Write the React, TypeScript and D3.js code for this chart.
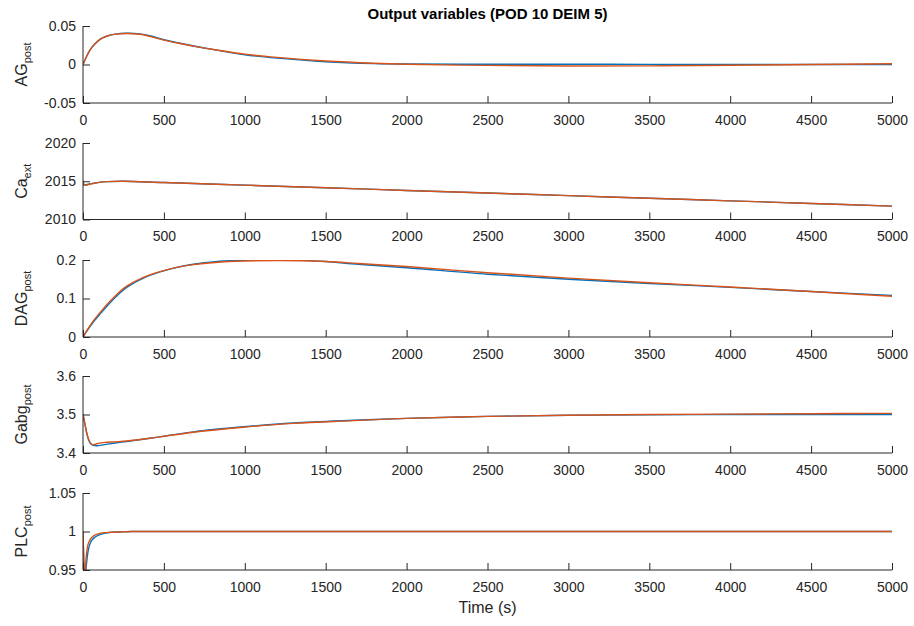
import React, { useEffect, useRef } from "react";
import * as d3 from "d3";

const xTicks = [0, 500, 1000, 1500, 2000, 2500, 3000, 3500, 4000, 4500, 5000];

// AG_post
const agTime = [0, 20, 43, 70, 105, 150, 200, 270, 350, 420, 500, 600, 700, 800, 1000, 1200, 1500, 1800, 2000, 2500, 3000, 3500, 4000, 4500, 5000];
const agFull = [0, 0.0095, 0.0188, 0.026, 0.0327, 0.037, 0.0395, 0.0405, 0.0398, 0.037, 0.0322, 0.0276, 0.0234, 0.0196, 0.0127, 0.0083, 0.0036, 0.0012, 0.0006, 0.0003, 0.0003, 0.0002, 0.0001, 0, 0];
const agRom = [0, 0.0095, 0.0188, 0.026, 0.0327, 0.037, 0.0395, 0.0403, 0.0392, 0.0362, 0.0316, 0.0272, 0.0232, 0.0198, 0.0135, 0.0092, 0.0045, 0.0016, 0.0004, -0.0012, -0.0019, -0.0018, -0.001, 0, 0.001];

// Ca_ext
const caTime = [0, 10, 40, 100, 150, 250, 500, 1000, 1500, 2000, 2500, 3000, 3500, 4000, 4500, 5000];
const caFull = [2014.6, 2014.5, 2014.65, 2014.85, 2014.95, 2015.0, 2014.83, 2014.49, 2014.15, 2013.8, 2013.46, 2013.12, 2012.78, 2012.44, 2012.1, 2011.75];
const caRom = [2015.1, 2014.5, 2014.6, 2014.85, 2014.95, 2015.0, 2014.83, 2014.49, 2014.15, 2013.8, 2013.46, 2013.12, 2012.78, 2012.44, 2012.1, 2011.75];

// DAG_post
const dagTime = [0, 30, 64, 110, 167, 220, 270, 373, 476, 580, 682, 800, 900, 1000, 1200, 1350, 1500, 1700, 2000, 2500, 3000, 3500, 4000, 4500, 5000];
const dagFull = [0, 0.019, 0.039, 0.062, 0.089, 0.111, 0.129, 0.153, 0.169, 0.181, 0.189, 0.195, 0.198, 0.1995, 0.2, 0.199, 0.196, 0.189, 0.18, 0.163, 0.15, 0.139, 0.129, 0.118, 0.108];
const dagRom = [0, 0.021, 0.042, 0.066, 0.093, 0.115, 0.132, 0.155, 0.17, 0.181, 0.188, 0.193, 0.196, 0.1975, 0.1985, 0.198, 0.196, 0.191, 0.183, 0.167, 0.153, 0.141, 0.13, 0.118, 0.106];

// Gabg_post
const gabgTime = [0, 5, 12, 23, 35, 48, 64, 85, 126, 200, 270, 476, 682, 991, 1300, 1671, 2000, 2500, 3000, 3500, 4000, 4500, 5000];
const gabgFull = [3.5, 3.49, 3.475, 3.452, 3.434, 3.424, 3.42, 3.419, 3.421, 3.426, 3.43, 3.442, 3.455, 3.468, 3.478, 3.485, 3.49, 3.495, 3.498, 3.499, 3.5, 3.5, 3.5];
const gabgRom = [3.5, 3.49, 3.475, 3.452, 3.435, 3.425, 3.421, 3.424, 3.427, 3.429, 3.431, 3.442, 3.454, 3.467, 3.477, 3.484, 3.49, 3.495, 3.498, 3.5, 3.501, 3.502, 3.503];

// PLC_post
const plcTime = [0, 3, 6, 10, 14, 20, 31, 40, 51, 70, 93, 130, 175, 250, 300, 500, 1000, 2000, 3000, 4000, 5000];
const plcFull = [1.0, 0.975, 0.955, 0.942, 0.94, 0.955, 0.974, 0.982, 0.9875, 0.992, 0.995, 0.9975, 0.999, 0.9995, 1.0, 1.0, 1.0, 1.0, 1.0, 1.0, 1.0];
const plcRom = [1.0, 0.975, 0.955, 0.945, 0.948, 0.968, 0.983, 0.988, 0.9915, 0.995, 0.997, 0.9985, 0.999, 0.9995, 1.0, 1.0, 1.0, 1.0, 1.0, 1.0, 1.0];

const panels = [
  { name: "AG", sub: "post", time: agTime, full: agFull, rom: agRom, domain: [-0.05, 0.05], ticks: [-0.05, 0, 0.05], top: 26, bottom: 103 },
  { name: "Ca", sub: "ext", time: caTime, full: caFull, rom: caRom, domain: [2010, 2020], ticks: [2010, 2015, 2020], top: 143, bottom: 219.5 },
  { name: "DAG", sub: "post", time: dagTime, full: dagFull, rom: dagRom, domain: [0, 0.2], ticks: [0, 0.1, 0.2], top: 260, bottom: 337 },
  { name: "Gabg", sub: "post", time: gabgTime, full: gabgFull, rom: gabgRom, domain: [3.4, 3.6], ticks: [3.4, 3.5, 3.6], top: 376, bottom: 453 },
  { name: "PLC", sub: "post", time: plcTime, full: plcFull, rom: plcRom, domain: [0.95, 1.05], ticks: [0.95, 1, 1.05], top: 493, bottom: 570 },
];

const W = 914;
const H = 626;
const left = 83;
const right = 892;
const font = "'Liberation Sans', Arial, Helvetica, sans-serif";
const axisColor = "#262626";

export default function App() {
  const ref = useRef<SVGSVGElement>(null);

  useEffect(() => {
    const svg = d3.select(ref.current);
    svg.selectAll("*").remove();

    const x = d3.scaleLinear().domain([0, 5000]).range([left, right]);

    panels.forEach((p, i) => {
      const y = d3.scaleLinear().domain(p.domain).range([p.bottom, p.top]);
      const g = svg.append("g");

      g.append("clipPath").attr("id", "clip" + i)
        .append("rect")
        .attr("x", left).attr("y", p.top)
        .attr("width", right - left).attr("height", p.bottom - p.top);

      const line = d3.line<number>()
        .x((_, j) => x(p.time[j]))
        .y(d => y(d))
        .curve(d3.curveCatmullRom.alpha(0.5));

      const lines = g.append("g").attr("clip-path", "url(#clip" + i + ")");
      lines.append("path").attr("d", line(p.full)).attr("fill", "none")
        .attr("stroke", "#0072BD").attr("stroke-width", 1.4);
      lines.append("path").attr("d", line(p.rom)).attr("fill", "none")
        .attr("stroke", "#D95319").attr("stroke-width", 1.4);

      // x axis with inward ticks
      const xa = g.append("g")
        .attr("transform", "translate(0," + p.bottom + ")")
        .call(d3.axisBottom(x).tickValues(xTicks).tickSize(-7).tickPadding(12).tickFormat(d3.format("d")));
      xa.select(".domain").attr("stroke", axisColor).attr("d", `M${left},0H${right}`);
      xa.selectAll("line").attr("stroke", axisColor);
      xa.selectAll("text").attr("font-family", font).attr("font-size", 14).attr("fill", axisColor);

      // y axis with inward ticks
      const ya = g.append("g")
        .attr("transform", "translate(" + left + ",0)")
        .call(d3.axisLeft(y).tickValues(p.ticks).tickSize(-7).tickPadding(7).tickFormat(d => String(d)));
      ya.select(".domain").attr("stroke", axisColor).attr("d", `M0,${p.top}V${p.bottom}`);
      ya.selectAll("line").attr("stroke", axisColor);
      ya.selectAll("text").attr("font-family", font).attr("font-size", 14).attr("fill", axisColor);

      // y label
      const lbl = g.append("text")
        .attr("transform", `translate(27,${(p.top + p.bottom) / 2}) rotate(-90)`)
        .attr("text-anchor", "middle")
        .attr("font-family", font)
        .attr("font-size", 16)
        .attr("fill", axisColor);
      lbl.append("tspan").text(p.name);
      lbl.append("tspan").attr("font-size", 11).attr("dy", 4).text(p.sub);
    });

    svg.append("text")
      .attr("x", (left + right) / 2).attr("y", 19)
      .attr("text-anchor", "middle")
      .attr("font-family", font).attr("font-size", 15).attr("font-weight", "bold")
      .attr("fill", "#000")
      .text("Output variables (POD 10 DEIM 5)");

    svg.append("text")
      .attr("x", (left + right) / 2).attr("y", 613)
      .attr("text-anchor", "middle")
      .attr("font-family", font).attr("font-size", 16)
      .attr("fill", axisColor)
      .text("Time (s)");
  }, []);

  return (
    <svg ref={ref} width={W} height={H}
      style={{ position: "absolute", left: 0, top: 0, background: "#fff" }} />
  );
}
